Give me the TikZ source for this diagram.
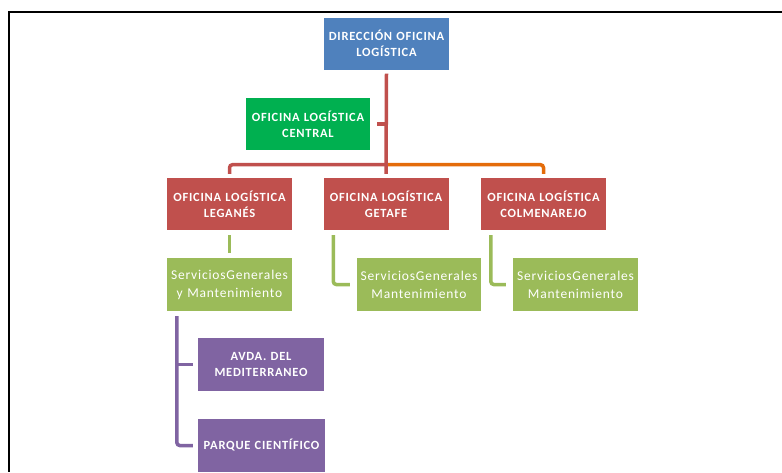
\documentclass[tikz,border=0pt]{standalone}
\usepackage{fontspec}
\setmainfont{Carlito}
\newfontfamily\capsfont{Carlito}[LetterSpace=6]
\newfontfamily\srvfont{Carlito}[LetterSpace=6]
\usetikzlibrary{calc}
\definecolor{cblue}{HTML}{4F81BD}
\definecolor{cred}{HTML}{C0504D}
\definecolor{cgreen}{HTML}{9BBB59}
\definecolor{cgreenb}{HTML}{00B050}
\definecolor{cpurple}{HTML}{8064A2}
\definecolor{corange}{HTML}{E46C0A}
\tikzset{
  box/.style={rectangle, inner sep=0pt, minimum width=125pt, minimum height=52pt,
    text=white, align=center, text width=123pt},
  capsbox/.style={box, font=\capsfont\bfseries\fontsize{12.5}{16}\selectfont},
  srvbox/.style={box, fill=cgreen, font=\srvfont\fontsize{13.5}{18}\selectfont},
  conR/.style={draw=cred, line width=3.5pt},
  conO/.style={draw=corange, line width=3.5pt},
  conG/.style={draw=cgreen, line width=3.5pt},
  conP/.style={draw=cpurple, line width=3.5pt},
}
\begin{document}
\begin{tikzpicture}[x=1pt,y=-1pt]
\useasboundingbox (0,0) rectangle (782,472);
\draw[line width=2.5pt] (782,12) -| (9,472);
% nodes
\node[capsbox, fill=cblue] (dir) at (386.5,43.5) {DIRECCIÓN OFICINA\\LOGÍSTICA};
\node[capsbox, fill=cgreenb, minimum width=124pt] (cen) at (308,124) {OFICINA LOGÍSTICA\\CENTRAL};
\node[capsbox, fill=cred] (leg) at (229.5,204) {OFICINA LOGÍSTICA\\LEGANÉS};
\node[capsbox, fill=cred] (get) at (386,204) {OFICINA LOGÍSTICA\\GETAFE};
\node[capsbox, fill=cred] (col) at (543.5,204) {OFICINA LOGÍSTICA\\COLMENAREJO};
\node[srvbox, minimum height=53pt] (legS) at (229.5,284.5) {ServiciosGenerales\\y Mantenimiento};
\node[srvbox, minimum height=53pt, minimum width=124pt] (getS) at (419,284.5) {ServiciosGenerales\\Mantenimiento};
\node[srvbox, minimum height=53pt] (colS) at (575.5,284.5) {ServiciosGenerales\\Mantenimiento};
\node[capsbox, fill=cpurple, minimum width=126pt, minimum height=53pt] (avda) at (261,364.5) {AVDA. DEL\\MEDITERRANEO};
\node[capsbox, fill=cpurple, minimum width=127pt, minimum height=53pt] (par) at (261.5,445.5) {PARQUE CIENTÍFICO};
% connectors
\coordinate (bar) at ($(dir.south)+(0,95)$);
\coordinate (ptop) at ($(legS.south west)+(10,5)$);
\coordinate (pmid) at (ptop |- avda.west);
\draw[conR, rounded corners=3pt] ($(leg.north)+(0,-4)$) |- (bar);
\draw[conO, rounded corners=3pt] (bar) -| ($(col.north)+(0,-4)$);
\draw[conR] ($(dir.south)+(0,4)$) -- ($(get.north)+(0,-4)$);
\draw[conR] ($(cen.east)+(7,0)$) -- (cen.east -| dir.south);
\draw[conG] ($(leg.south)+(0,5)$) -- ($(legS.north)+(0,-5)$);
\draw[conG, rounded corners=3pt] ($(get.south west)+(10,5)$) |- ($(getS.west)+(-7,0)$);
\draw[conG, rounded corners=3pt] ($(col.south west)+(10,5)$) |- ($(colS.west)+(-7,0)$);
\draw[conP, rounded corners=3pt] (ptop) |- ($(par.west)+(-5,0)$);
\draw[conP] (pmid) -- ($(avda.west)+(-5,0)$);
\end{tikzpicture}
\end{document}
